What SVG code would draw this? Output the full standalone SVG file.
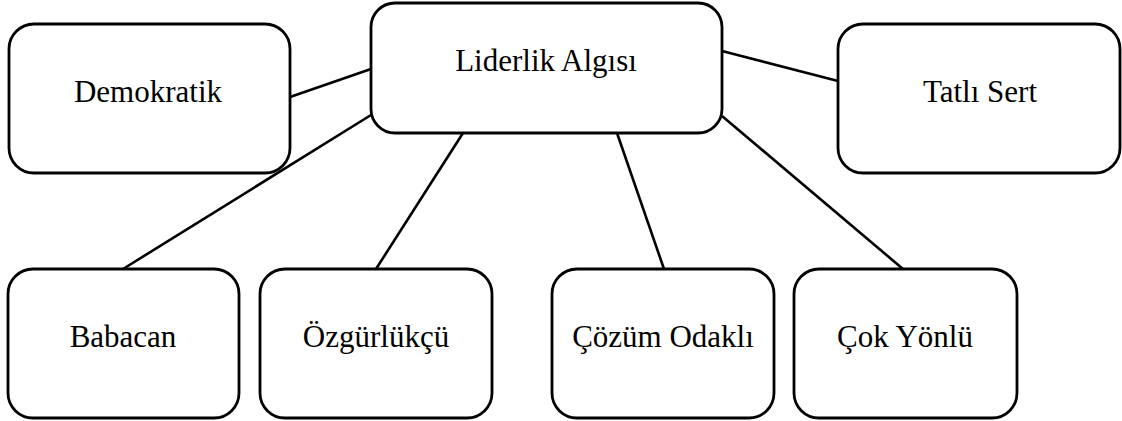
<svg xmlns="http://www.w3.org/2000/svg" width="1122" height="421" viewBox="0 0 1122 421">
<style>
.box{fill:#fff;stroke:#000;stroke-width:2.8}
.lbl{font-family:'Times New Roman',Tinos,'Nimbus Roman','Nimbus Roman No9 L','Liberation Serif','DejaVu Serif','Noto Serif',serif;font-size:31px;fill:#000;text-anchor:middle}
.con line{stroke:#000;stroke-width:2.6}
</style>
<rect width="1122" height="421" fill="#fff"/>
<g id="connectors" class="con">
<line x1="290" y1="97" x2="371" y2="69"/>
<line x1="371" y1="115" x2="123" y2="269"/>
<line x1="463" y1="133" x2="376" y2="269"/>
<line x1="617" y1="133" x2="664" y2="269"/>
<line x1="722" y1="116" x2="903" y2="269"/>
<line x1="722" y1="51" x2="838" y2="81"/>
</g>
<g id="liderlik"><rect class="box" x="371" y="3" width="351" height="130" rx="24"/><text class="lbl" x="546" y="71">Liderlik Algısı</text></g>
<g id="demokratik"><rect class="box" x="9" y="24" width="281" height="149" rx="25"/><text class="lbl" x="148" y="102">Demokratik</text></g>
<g id="tatli"><rect class="box" x="838" y="24" width="282" height="149" rx="25"/><text class="lbl" x="980" y="102">Tatlı Sert</text></g>
<g id="babacan"><rect class="box" x="8" y="269" width="231" height="149" rx="25"/><text class="lbl" x="123" y="347">Babacan</text></g>
<g id="ozgurlukcu"><rect class="box" x="260" y="269" width="232" height="149" rx="25"/><text class="lbl" x="376" y="347">Özgürlükçü</text></g>
<g id="cozum"><rect class="box" x="552" y="269" width="222" height="149" rx="25"/><text class="lbl" x="663" y="347">Çözüm Odaklı</text></g>
<g id="cokyonlu"><rect class="box" x="794" y="269" width="223" height="149" rx="25"/><text class="lbl" x="905" y="347">Çok Yönlü</text></g>
</svg>
